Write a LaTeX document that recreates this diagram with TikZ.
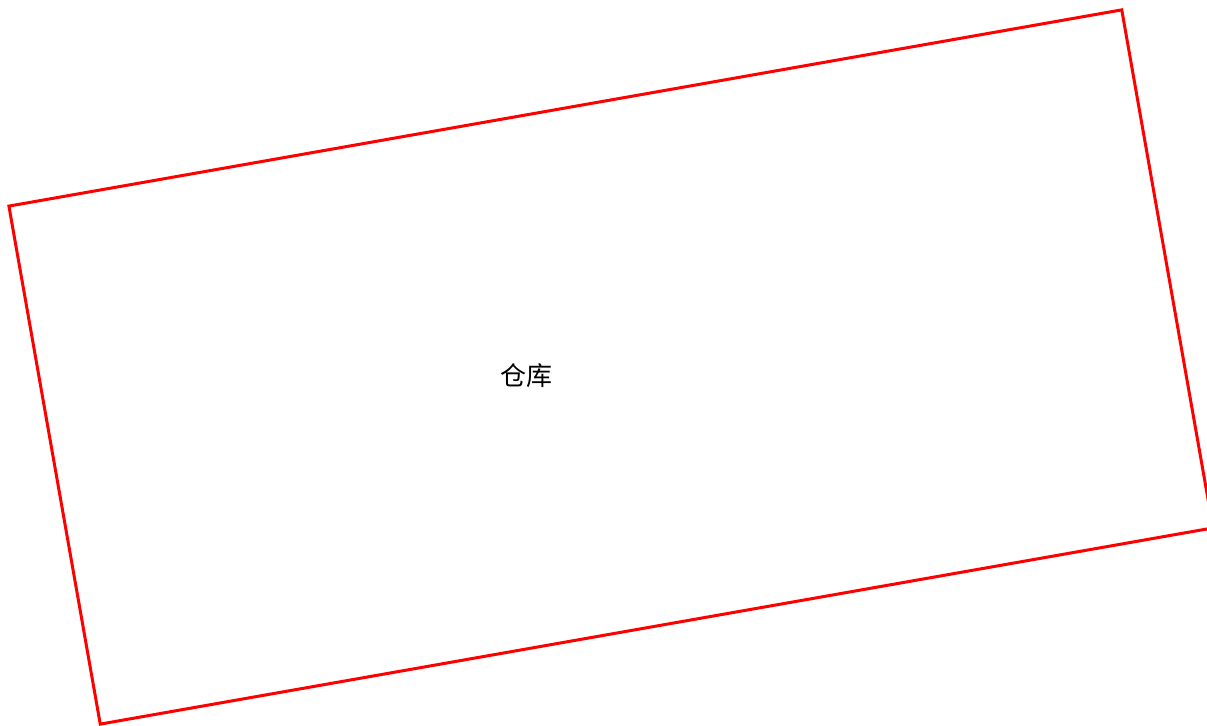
\documentclass[tikz,border=0pt]{standalone}
\usepackage{fontspec}
\newfontfamily\cjk{Noto Sans CJK SC}
\usetikzlibrary{positioning}

\tikzset{
    zone/.style={draw=red, line width=1.5pt, rectangle, inner sep=0pt, outer sep=0pt},
    zonelabel/.style={font=\cjk\fontsize{13pt}{15pt}\selectfont, text=black}
}

\begin{document}
\begin{tikzpicture}[x=0.5pt, y=0.5pt]
    % frame of the picture
    \path[use as bounding box, clip] (0,0) rectangle (1207,-726);

    % warehouse outline, turned by 10 degrees
    \node[zone, rotate=10, minimum width=565pt, minimum height=263pt] (warehouse) at (611,-367) {};

    % label
    \node[zonelabel] (warehouselabel) at (526,-376) {仓库};
\end{tikzpicture}
\end{document}
